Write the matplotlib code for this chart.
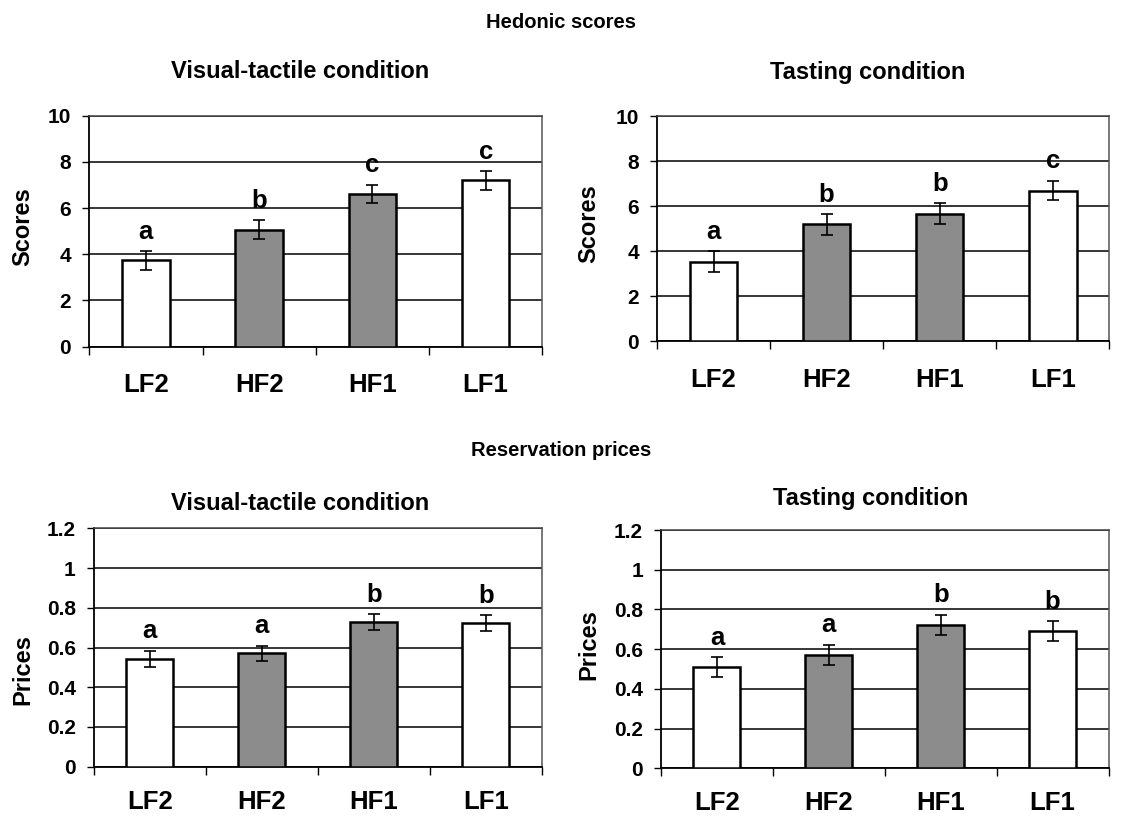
import matplotlib
matplotlib.use('Agg')
import matplotlib.pyplot as plt
import numpy as np
from matplotlib.ticker import FixedLocator, FuncFormatter

plt.rcParams['font.family'] = ['Liberation Sans', 'DejaVu Sans']
plt.rcParams['font.weight'] = 'bold'

# Data
products = ['LF2', 'HF2', 'HF1', 'LF1']
bar_colors = ['white', '#8c8c8c', '#8c8c8c', 'white']

scores_visual = [3.74, 5.07, 6.61, 7.20]
scores_visual_err = [0.40, 0.41, 0.40, 0.40]
scores_visual_letters = ['a', 'b', 'c', 'c']

scores_tasting = [3.54, 5.19, 5.67, 6.69]
scores_tasting_err = [0.45, 0.45, 0.45, 0.44]
scores_tasting_letters = ['a', 'b', 'b', 'c']

prices_visual = [0.544, 0.570, 0.728, 0.723]
prices_visual_err = [0.040, 0.040, 0.040, 0.040]
prices_visual_letters = ['a', 'a', 'b', 'b']

prices_tasting = [0.510, 0.571, 0.722, 0.690]
prices_tasting_err = [0.050, 0.050, 0.050, 0.050]
prices_tasting_letters = ['a', 'a', 'b', 'b']

W, H = 1123, 816
fig = plt.figure(figsize=(W / 100, H / 100), dpi=100)


def px(x, y):
    # pixel position (from top-left) -> figure fraction
    return x / W, 1 - y / H


def panel(rect, values, errs, letters, ymax, ystep, xpad=19):
    left, top, right, bottom = rect
    ax = fig.add_axes([left / W, 1 - bottom / H, (right - left) / W, (bottom - top) / H])
    x = np.arange(len(products))
    ax.bar(x, values, width=0.42, color=bar_colors, edgecolor='black', linewidth=1.8, zorder=3)
    ax.errorbar(x, values, yerr=errs, fmt='none', ecolor='black', elinewidth=1.2,
                capsize=4.5, capthick=1.2, zorder=4)
    for xi, v, e, lab in zip(x, values, errs, letters):
        ax.annotate(lab, (xi, v + e), xytext=(0, 9), textcoords='offset points',
                    ha='center', va='baseline', fontsize=18.5, fontweight='bold')

    ax.set_xlim(-0.5, len(products) - 0.5)
    ax.set_ylim(0, ymax)
    yt = np.arange(0, ymax + ystep / 2, ystep)
    ax.set_yticks(yt)
    ax.yaxis.set_major_formatter(FuncFormatter(lambda v, p: '%g' % round(v, 2)))
    ax.tick_params(axis='y', direction='out', length=5, width=1, pad=8, labelsize=15)

    ax.xaxis.set_major_locator(FixedLocator(np.arange(-0.5, len(products), 1.0)))
    ax.xaxis.set_major_formatter(FuncFormatter(lambda v, p: ''))
    ax.set_xticks(x, products, minor=True)
    ax.tick_params(axis='x', which='major', direction='out', length=5.5, width=1)
    ax.tick_params(axis='x', which='minor', length=0, pad=xpad, labelsize=18.5)

    ax.grid(axis='y', color='black', linewidth=1.1, zorder=0)
    ax.set_axisbelow(True)
    ax.spines['left'].set_color('black')
    ax.spines['bottom'].set_color('black')
    ax.spines['left'].set_linewidth(1.3)
    ax.spines['bottom'].set_linewidth(1.3)
    ax.spines['top'].set_color('#444444')
    ax.spines['right'].set_color('#555555')
    ax.spines['top'].set_linewidth(1.1)
    ax.spines['right'].set_linewidth(1.1)
    return ax


panel((89.3, 115.7, 542.3, 346.7), scores_visual, scores_visual_err, scores_visual_letters, 10, 2)
panel((657, 116, 1109.3, 341.3), scores_tasting, scores_tasting_err, scores_tasting_letters, 10, 2)
panel((93.9, 528.3, 541.7, 766.7), prices_visual, prices_visual_err, prices_visual_letters, 1.2, 0.2, xpad=17)
panel((661, 530, 1108.6, 768.3), prices_tasting, prices_tasting_err, prices_tasting_letters, 1.2, 0.2, xpad=16)

# Section and panel titles
fig.text(*px(561, 22), 'Hedonic scores', ha='center', va='center', fontsize=14.5, fontweight='bold')
fig.text(*px(561, 451), 'Reservation prices', ha='center', va='center', fontsize=14.5, fontweight='bold')
fig.text(*px(300, 71), 'Visual-tactile condition', ha='center', va='center', fontsize=17, fontweight='bold')
fig.text(*px(868, 72), 'Tasting condition', ha='center', va='center', fontsize=17, fontweight='bold')
fig.text(*px(300, 503), 'Visual-tactile condition', ha='center', va='center', fontsize=17, fontweight='bold')
fig.text(*px(871, 498), 'Tasting condition', ha='center', va='center', fontsize=17, fontweight='bold')

# Axis labels
fig.text(*px(22.5, 227), 'Scores', rotation=90, ha='center', va='center', fontsize=17, fontweight='bold')
fig.text(*px(588.5, 224), 'Scores', rotation=90, ha='center', va='center', fontsize=17, fontweight='bold')
fig.text(*px(22.5, 670), 'Prices', rotation=90, ha='center', va='center', fontsize=17, fontweight='bold')
fig.text(*px(589, 645), 'Prices', rotation=90, ha='center', va='center', fontsize=17, fontweight='bold')

fig.savefig('out.png', dpi=100, facecolor='white')
